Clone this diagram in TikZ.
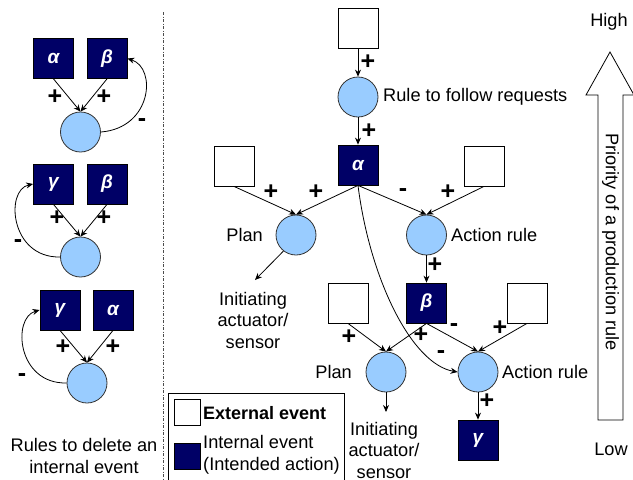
\documentclass[tikz,border=0pt]{standalone}
\usepackage{fontspec}
\setmainfont{Liberation Sans}
\usetikzlibrary{arrows.meta}
\definecolor{navy}{HTML}{000066}
\definecolor{rblue}{HTML}{99CCFF}
\begin{document}
\begin{tikzpicture}[x=1pt,y=-1pt,
 every node/.style={font=\fontsize{18.2}{21.5}\selectfont},
 evbox/.style={draw=black, fill=white, minimum size=40pt, inner sep=0pt, line width=0.8pt},
 inbox/.style={draw=black, fill=navy, minimum size=40pt, inner sep=0pt, line width=0.8pt, text=white, font=\fontsize{19}{19}\selectfont\bfseries\itshape},
 lgbox/.style={draw=black, minimum size=26pt, inner sep=0pt, line width=0.8pt},
 rulec/.style={circle, draw=black!80, fill=rblue, minimum size=40pt, inner sep=0pt, line width=0.8pt},
 arr/.style={-{Stealth[length=7pt,width=6pt]}, line width=0.8pt},
 sgn/.style={font=\fontsize{25}{25}\selectfont\bfseries, inner sep=0pt},
 lbl/.style={inner sep=0pt},
]
\useasboundingbox (0,0) rectangle (633,480);

% ---------- left panel ----------
\node[inbox] (a1) at (53.5,58.5) {α};
\node[inbox] (b1) at (107,58.5) {β};
\node[rulec] (c1) at (80.5,132) {};
\draw[arr] (a1.south) -- (c1.north);
\draw[arr] (b1.south) -- (c1.north);
\draw[arr] (c1.east) .. controls (152,128) and (157,68) .. (b1.east);
\node[sgn] at (55,97) {+};
\node[sgn] at (104,97) {+};
\node[sgn] at (142,123) {-};

\node[inbox] (g2) at (53.5,184) {γ};
\node[inbox] (b2) at (107,184) {β};
\node[rulec] (c2) at (80.5,257) {};
\draw[arr] (g2.south) -- (c2.north);
\draw[arr] (b2.south) -- (c2.north);
\draw[arr] (c2.west) .. controls (10,258) and (5,190) .. (g2.west);
\node[sgn] at (57,218) {+};
\node[sgn] at (104,218) {+};
\node[sgn] at (18,244) {-};

\node[inbox] (g3) at (60,310) {γ};
\node[inbox] (a3) at (113,310) {α};
\node[rulec] (c3) at (87,383) {};
\draw[arr] (g3.south) -- (c3.north);
\draw[arr] (a3.south) -- (c3.north);
\draw[arr] (c3.west) .. controls (17,384) and (12,318) .. (g3.west);
\node[sgn] at (63,347) {+};
\node[sgn] at (113,347) {+};
\node[sgn] at (22,378) {-};

\node[lbl, align=center] (cap) at (84,456) {Rules to delete an\\internal event};

\draw[gray!60!black, line width=0.6pt, dash pattern=on 3pt off 1.5pt on 1pt off 1.5pt] (163,12) -- (163,480);

% ---------- right panel ----------
\node[evbox] (e0) at (358,28) {};
\node[rulec] (r0) at (358,97) {};
\node[inbox] (a0) at (358,165) {α};
\node[evbox] (eL) at (234,166) {};
\node[evbox] (eR) at (484,166) {};
\node[rulec] (pl1) at (296,235) {};
\node[rulec] (ac1) at (426.5,235) {};
\node[inbox] (bt) at (426.5,303) {β};
\node[evbox] (eL2) at (348,303) {};
\node[evbox] (eR2) at (527,303) {};
\node[rulec] (pl2) at (386,372) {};
\node[rulec] (ac2) at (478,372) {};
\node[inbox] (g0) at (478,440) {γ};

\node[lbl, anchor=west] at (383,97) {Rule to follow requests};
\node[lbl, anchor=east] at (263,235) {Plan};
\node[lbl, anchor=west] at (451,235) {Action rule};
\node[lbl, anchor=east] at (352,372) {Plan};
\node[lbl, anchor=west] at (502,372) {Action rule};

\draw[arr] (e0.south) -- (r0.north);
\draw[arr] (r0.south) -- (a0.north);
\node[sgn] at (368,62) {+};
\node[sgn] at (369,131) {+};

\draw[arr] (eL.south) -- (pl1.north);
\draw[arr] (a0.south) -- (pl1.north);
\draw[arr] (a0.south) -- (ac1.north);
\draw[arr] (eR.south) -- (ac1.north);
\node[sgn] at (271,192) {+};
\node[sgn] at (316,192) {+};
\node[sgn] at (403,193) {-};
\node[sgn] at (448,192) {+};

\draw[arr] (a0.south) .. controls (370,280) and (412,364) .. (ac2.west);
\node[sgn] at (441,355) {-};

\coordinate (t1) at (255,280);
\draw[arr] (pl1.-128) -- (t1);
\node[lbl, align=center] (init1) at (253,320) {Initiating\\actuator/\\sensor};

\draw[arr] (ac1.south) -- (bt.north);
\node[sgn] at (435,265) {+};

\draw[arr] (eL2.south) -- (pl2.north);
\draw[arr] (bt.south) -- (pl2.north);
\draw[arr] (bt.south) -- (ac2.north);
\draw[arr] (eR2.south) -- (ac2.north);
\node[sgn] at (349,337) {+};
\node[sgn] at (421,335) {+};
\node[sgn] at (454,328) {-};
\node[sgn] at (500,328) {+};

\coordinate (t2) at (386,412);
\draw[arr] (pl2.south) -- (t2);
\node[lbl, align=center] (init2) at (384,450) {Initiating\\actuator/\\sensor};

\draw[arr] (ac2.south) -- (g0.north);
\node[sgn] at (487,401) {+};

% ---------- legend ----------
\draw[line width=0.8pt] (168,482) -- (168,393) -- (344,393) -- (344,482);
\node[lgbox, fill=white] (lw) at (187,412) {};
\node[lgbox, fill=navy] (ln) at (187,456.5) {};
\node[lbl, anchor=west, font=\fontsize{18}{21.5}\selectfont\bfseries] at (203,413) {External event};
\node[lbl, anchor=west, align=left] at (203,455) {Internal event\\(Intended action)};

% ---------- priority arrow ----------
\draw[line width=0.8pt, fill=white] (598,420) -- (598,95) -- (586,95) -- (610,52) -- (634,95) -- (623,95) -- (623,420) -- cycle;
\node[lbl, rotate=-90] at (610.5,242) {Priority of a production rule};
\node[lbl] at (609,22) {High};
\node[lbl] at (611,449) {Low};
\end{tikzpicture}
\end{document}
